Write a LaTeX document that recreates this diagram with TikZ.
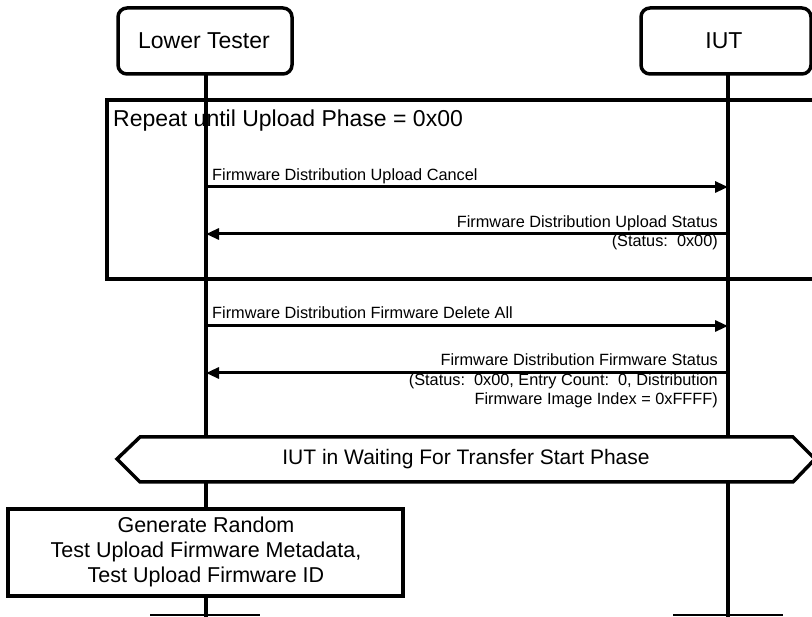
\documentclass[tikz,border=0pt]{standalone}
\usepackage{fontspec}
\setmainfont{Liberation Sans}
\usetikzlibrary{arrows.meta}

\begin{document}
\begin{tikzpicture}[x=1pt,y=-1pt,
  headbox/.style={draw,line width=3.5pt,rounded corners=9pt,fill=white},
  lifeline/.style={line width=3.5pt},
  msg/.style={line width=3pt,-{Triangle[length=13pt,width=11pt]}},
  msglabel/.style={inner sep=0pt,font=\fontsize{16.3}{20}\selectfont},
  frame/.style={line width=3.5pt},
  actbox/.style={draw,line width=3.5pt,fill=white},
  bigtext/.style={inner sep=0pt,font=\fontsize{23}{27}\selectfont},
  endcap/.style={line width=2.5pt}]
\useasboundingbox (0,0) rectangle (812,617);
\clip (0,0) rectangle (812,617);

% lifeline heads
\draw[headbox] (118,8) rectangle (292,74);
\node[bigtext] (lt) at (204,41) {Lower Tester};
\draw[headbox] (641,8) rectangle (811,74);
\node[bigtext] (iut) at (724,41) {IUT};

% lifeline anchors
\coordinate (ltTop) at (206,74);
\coordinate (iutTop) at (728,74);
\coordinate (ltEnd) at (206,617);
\coordinate (iutEnd) at (728,617);

% lifelines
\draw[lifeline] (ltTop) -- (ltEnd);
\draw[lifeline] (iutTop) -- (iutEnd);

% end caps
\coordinate (ltCapL) at (150,615);
\coordinate (ltCapR) at (260,615);
\coordinate (iutCapL) at (673,615);
\coordinate (iutCapR) at (783,615);
\draw[endcap] (ltCapL) -- (ltCapR);
\draw[endcap] (iutCapL) -- (iutCapR);

% loop frame
\draw[frame] (107,100) rectangle (830,279);
\node[bigtext,anchor=base west] (loop) at (113,127) {Repeat until Upload Phase = 0x00};

% messages inside loop
\coordinate (m1a) at (206,187);
\coordinate (m1b) at (728,187);
\draw[msg] (m1a) -- (m1b);
\node[msglabel,anchor=base west] (l1) at (212,181) {Firmware Distribution Upload Cancel};

\coordinate (m2a) at (728,234);
\coordinate (m2b) at (206,234);
\draw[msg] (m2a) -- (m2b);
\node[msglabel,anchor=base east] (l2) at (718,228) {Firmware Distribution Upload Status};
\node[msglabel,anchor=base east] (l2b) at (718,247) {(Status:\ \ 0x00)};

% messages after loop
\coordinate (m3a) at (206,326);
\coordinate (m3b) at (728,326);
\draw[msg] (m3a) -- (m3b);
\node[msglabel,anchor=base west] (l3) at (212,319) {Firmware Distribution Firmware Delete All};

\coordinate (m4a) at (728,373);
\coordinate (m4b) at (206,373);
\draw[msg] (m4a) -- (m4b);
\node[msglabel,anchor=base east] (l4) at (718,366) {Firmware Distribution Firmware Status};
\node[msglabel,anchor=base east] (l4b) at (718,386) {(Status:\ \ 0x00, Entry Count:\ \ 0, Distribution};
\node[msglabel,anchor=base east] (l4c) at (718,405) {Firmware Image Index = 0xFFFF)};

% state condition
\draw[frame,fill=white] (117,459) -- (140,437) -- (793,437) -- (815,459) -- (793,482) -- (140,482) -- cycle;
\node[bigtext,font=\fontsize{21}{25}\selectfont] (state) at (466,459) {IUT in Waiting For Transfer Start Phase};

% local action
\draw[actbox] (8,509) rectangle (403,596);
\node[bigtext,align=center,font=\fontsize{21.5}{25}\selectfont] (act) at (206,552)
  {Generate Random\\Test Upload Firmware Metadata,\\Test Upload Firmware ID};
\end{tikzpicture}
\end{document}
